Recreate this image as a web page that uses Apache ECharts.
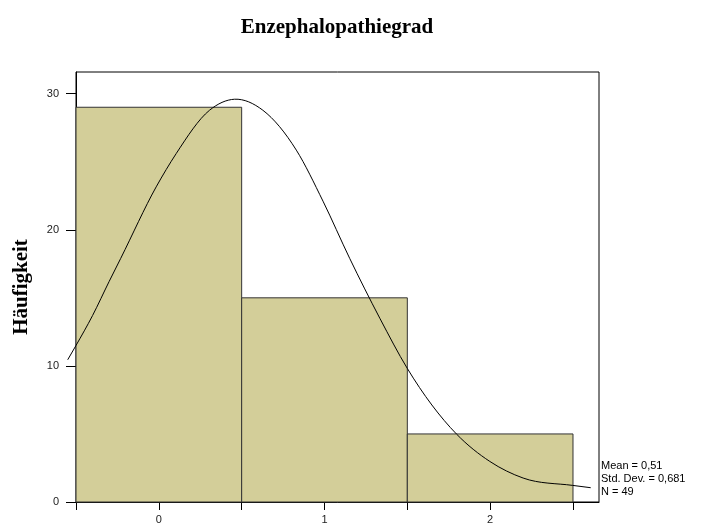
<!DOCTYPE html>
<html>
<head>
<meta charset="utf-8">
<script src="https://cdn.jsdelivr.net/npm/echarts@6/dist/echarts.min.js"></script>
<style>
  html, body { margin: 0; padding: 0; background: #fff; }
  #chart { width: 705px; height: 525px; }
</style>
</head>
<body>
<div id="chart"></div>
<script>
// Histogram of encephalopathy grade with fitted normal curve
const binCenters = [0, 1, 2];
const binWidth = 1;
const counts = [29, 15, 5];

// Normal curve, points along the fitted line
const curveX = [-0.55, -0.5, -0.4, -0.3, -0.23, -0.016, 0.105, 0.306, 0.457, 0.628, 0.83, 0.991, 1.152, 1.334, 1.499, 1.797, 1.998, 2.199, 2.498, 2.607];
const curveY = [10.45, 11.5, 13.7, 16.2, 17.9, 23.15, 25.6, 28.78, 29.59, 28.78, 25.85, 22.1, 17.9, 13.5, 9.83, 4.99, 2.98, 1.76, 1.22, 1.05];

const xTicks = [-0.5, 0, 0.5, 1, 1.5, 2, 2.5];
const xLabels = [0, 1, 2];
const yTicks = [0, 10, 20, 30];

const statsLines = ['Mean = 0,51', 'Std. Dev. = 0,681', 'N = 49'];
const titleText = 'Enzephalopathiegrad';
const yName = 'Häufigkeit';

const chart = echarts.init(document.getElementById('chart'), null, { renderer: 'canvas' });

const barData = binCenters.map((c, i) => [c - binWidth / 2, c + binWidth / 2, counts[i]]);
const curveData = curveX.map((x, i) => [x, curveY[i]]);

// Smooth path through the curve points (cubic Hermite with
// non-uniform three-point slopes), built in pixel space
function curvePath(api) {
  const p = curveData.map(d => api.coord(d));
  const n = p.length;
  const h = [], s = [];
  for (let i = 0; i < n - 1; i++) {
    h.push(p[i + 1][0] - p[i][0]);
    s.push((p[i + 1][1] - p[i][1]) / h[i]);
  }
  const m = [];
  for (let i = 0; i < n; i++) {
    if (i === 0) m.push(s[0]);
    else if (i === n - 1) m.push(s[n - 2]);
    else m.push((h[i - 1] * s[i] + h[i] * s[i - 1]) / (h[i - 1] + h[i]));
  }
  let d = 'M' + p[0][0] + ' ' + p[0][1];
  for (let i = 0; i < n - 1; i++) {
    const k = h[i] / 3;
    d += ' C' + (p[i][0] + k) + ' ' + (p[i][1] + m[i] * k) + ' ' +
      (p[i + 1][0] - k) + ' ' + (p[i + 1][1] - m[i + 1] * k) + ' ' +
      p[i + 1][0] + ' ' + p[i + 1][1];
  }
  return d;
}

chart.setOption({
  animation: false,
  backgroundColor: '#ffffff',
  title: {
    text: titleText,
    left: 332,
    textAlign: 'center',
    top: 12,
    textStyle: { fontFamily: 'Liberation Serif', fontWeight: 'bold', fontSize: 21, color: '#000' }
  },
  grid: {
    left: 76, right: 106, top: 72, bottom: 23,
    show: true, borderColor: '#000', borderWidth: 1, backgroundColor: 'transparent'
  },
  xAxis: {
    type: 'value',
    min: -0.5,
    max: 2.657,
    splitLine: { show: false },
    axisLine: { show: true, onZero: false, lineStyle: { color: '#000', width: 1 } },
    axisTick: { show: true, length: 8, lineStyle: { color: '#000' }, customValues: xTicks },
    axisLabel: {
      customValues: xLabels, color: '#222', fontFamily: 'Liberation Sans', fontSize: 11, margin: 12
    }
  },
  yAxis: {
    type: 'value',
    min: 0,
    max: 31.59,
    name: yName,
    nameLocation: 'middle',
    nameGap: 44,
    nameTextStyle: { fontFamily: 'Liberation Serif', fontWeight: 'bold', fontSize: 21, color: '#000' },
    splitLine: { show: false },
    axisLine: { show: true, onZero: false, lineStyle: { color: '#000', width: 1 } },
    axisTick: { show: true, length: 10, lineStyle: { color: '#000' }, customValues: yTicks },
    axisLabel: {
      customValues: yTicks, color: '#222', fontFamily: 'Liberation Sans', fontSize: 11, margin: 17
    }
  },
  graphic: [{
    type: 'text',
    left: 601,
    top: 459,
    style: {
      text: statsLines.join('\n'),
      fontFamily: 'Liberation Sans',
      fontSize: 11,
      lineHeight: 13,
      fill: '#000'
    }
  }],
  series: [
    {
      type: 'custom',
      data: barData,
      encode: { x: [0, 1], y: 2 },
      renderItem: function (params, api) {
        const p0 = api.coord([api.value(0), api.value(2)]);
        const p1 = api.coord([api.value(1), 0]);
        return {
          type: 'rect',
          shape: { x: p0[0], y: p0[1], width: p1[0] - p0[0], height: p1[1] - p0[1] },
          style: { fill: '#d3ce99', stroke: '#333', lineWidth: 1 }
        };
      },
      z: 2
    },
    {
      type: 'custom',
      data: curveData,
      encode: { x: 0, y: 1 },
      clip: false,
      renderItem: function (params, api) {
        if (params.dataIndex !== 0) return null;
        return {
          type: 'path',
          shape: { pathData: curvePath(api) },
          style: { fill: null, stroke: '#000', lineWidth: 1 }
        };
      },
      z: 3
    }
  ]
});
</script>
</body>
</html>
